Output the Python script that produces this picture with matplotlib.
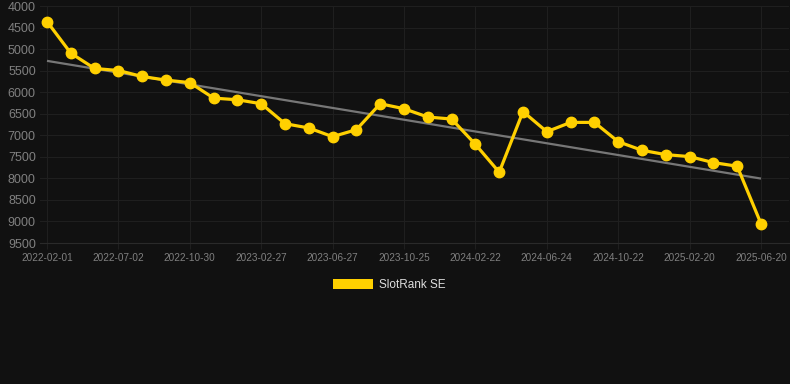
import numpy as np
import matplotlib
matplotlib.use("Agg")
import matplotlib.pyplot as plt
from matplotlib.patches import Patch

plt.rcParams['font.family'] = ['Liberation Sans', 'DejaVu Sans']

tick_labels = ["2022-02-01", "2022-07-02", "2022-10-30", "2023-02-27", "2023-06-27",
               "2023-10-25", "2024-02-22", "2024-06-24", "2024-10-22", "2025-02-20",
               "2025-06-20"]
ranks = [4360, 5095, 5450, 5497, 5636, 5720, 5778, 6137, 6176, 6268,
         6731, 6831, 7032, 6870, 6268, 6384, 6577, 6623, 7210, 7858,
         6450, 6917, 6701, 6701, 7148, 7349, 7449, 7495, 7634, 7718,
         9053]
series_name = "SlotRank SE"
y_ticks = [4000, 4500, 5000, 5500, 6000, 6500, 7000, 7500, 8000, 8500, 9000, 9500]
trend_ends = [5273, 8005]

bg = "#111111"
grid_c = "#1f1f1f"
text_c = "#808080"
yellow = "#FFD000"

fig = plt.figure(figsize=(7.9, 3.84), dpi=100, facecolor=bg)
ax = fig.add_axes([40/790, 1-243/384, 749/790, 237/384], facecolor=bg)

x = np.arange(len(ranks))
ax.plot([x[0], x[-1]], trend_ends, color="#777777", lw=1.6, zorder=2, solid_capstyle="butt")
ax.plot(x, ranks, color=yellow, lw=2.3, marker="o", ms=7.5, zorder=3)

ax.set_ylim(9500, 4000)
ax.set_xlim(-7/23.8, 30 + 28/23.8)
ax.set_yticks(y_ticks)
ax.set_yticklabels([str(v) for v in y_ticks], color=text_c, fontsize=9)
tick_pos = np.arange(0, len(ranks), 3)
ax.set_xticks(tick_pos)
ax.set_xticklabels(tick_labels, color=text_c, fontsize=7.2)
ax.tick_params(axis="y", length=0, pad=3)
ax.tick_params(axis="x", length=4, color=grid_c, pad=3)
ax.grid(True, color=grid_c, lw=0.8)
ax.set_axisbelow(True)
for s in ax.spines.values():
    s.set_visible(False)
ax.spines["bottom"].set_visible(True)
ax.spines["bottom"].set_color("#2a2a2a")

leg = fig.legend(handles=[Patch(facecolor=yellow, edgecolor="none", label=series_name)],
                 loc="center", bbox_to_anchor=(389.5/790, 1-285/384), frameon=False,
                 fontsize=8.5, handlelength=3.4, handleheight=0.9, handletextpad=0.5)
for t in leg.get_texts():
    t.set_color("#dddddd")

fig.savefig("out.png", dpi=100, facecolor=bg)
